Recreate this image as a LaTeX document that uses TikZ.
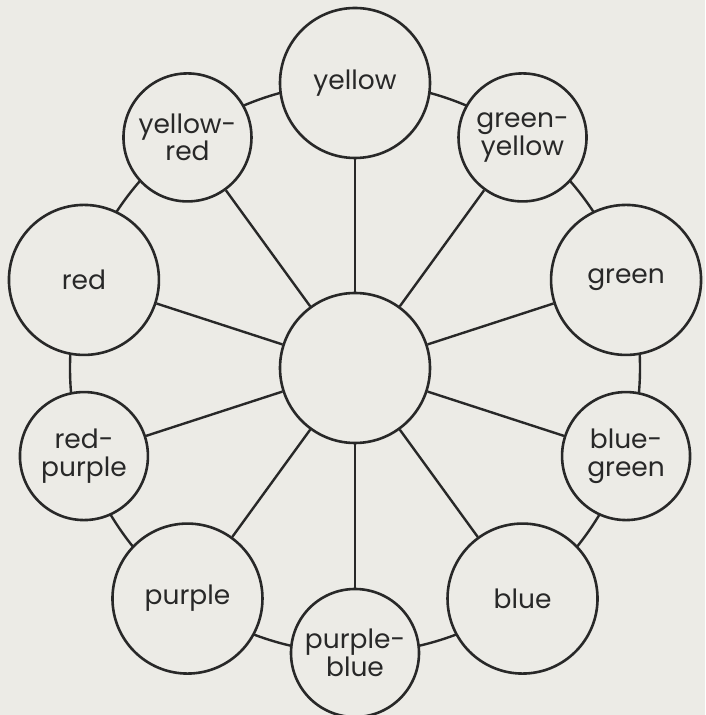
\documentclass[tikz,border=0pt]{standalone}
\usepackage{fontspec}
\setmainfont{Poppins}
\usetikzlibrary{backgrounds,calc}
\definecolor{paper}{RGB}{236,235,230}
\definecolor{ink}{RGB}{40,40,40}
\tikzset{
  hue/.style={circle,draw=ink,line width=2.6pt,fill=paper,inner sep=0pt,
    align=center,text=ink,font=\fontsize{26.5}{27.5}\selectfont},
  bighue/.style={hue,minimum size=150pt},
  smallhue/.style={hue,minimum size=128pt},
  link/.style={draw=ink,line width=2.4pt}
}
\begin{document}
\begin{tikzpicture}[x=1pt,y=1pt]
\useasboundingbox (0,0) rectangle (705,715);
\node[bighue] (c) at (355,347) {};
\node[bighue]   (y)  at ($(c)+(90:285)$)   {yellow};
\node[smallhue] (gy) at ($(c)+(54:285)$)   {green-\\yellow};
\node[bighue]   (g)  at ($(c)+(18:285)$)   {green};
\node[smallhue] (bg) at ($(c)+(-18:285)$)  {blue-\\green};
\node[bighue]   (b)  at ($(c)+(-54:285)$)  {blue};
\node[smallhue] (pb) at ($(c)+(-90:285)$)  {purple-\\blue};
\node[bighue]   (p)  at ($(c)+(-126:285)$) {purple};
\node[smallhue] (rp) at ($(c)+(-162:285)$) {red-\\purple};
\node[bighue]   (r)  at ($(c)+(162:285)$)  {red};
\node[smallhue] (yr) at ($(c)+(126:285)$)  {yellow-\\red};
\begin{scope}[on background layer]
\fill[paper] (0,0) rectangle (705,715);
\draw[link] (c.center) circle[radius=285pt];
\foreach \n in {y,gy,g,bg,b,pb,p,rp,r,yr}{\draw[link] (c) -- (\n);}
\end{scope}
\end{tikzpicture}
\end{document}
